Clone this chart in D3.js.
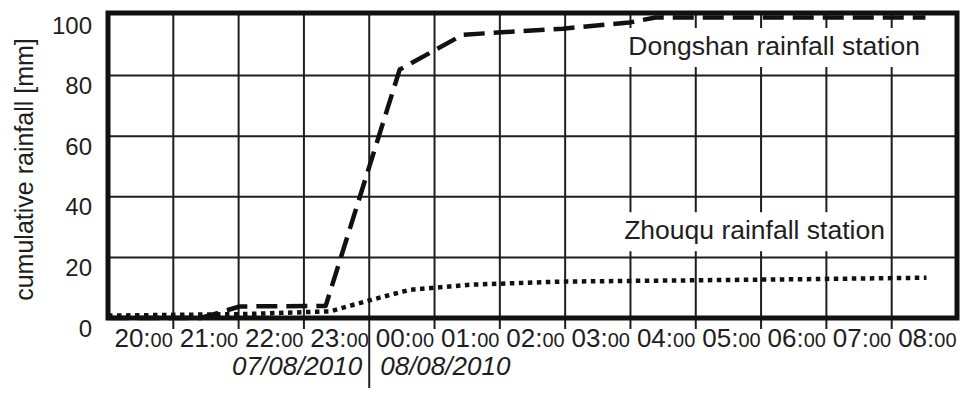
<!DOCTYPE html>
<html>
<head>
<meta charset="utf-8">
<script src="https://cdn.jsdelivr.net/npm/d3@7"></script>
<style>
  html, body { margin: 0; padding: 0; background: #fff; }
  svg { display: block; font-family: "Liberation Sans", Arial, sans-serif; }
</style>
</head>
<body>
<svg id="chart" width="975" height="397"></svg>
<script>
// Hour labels along the x axis (one per hourly interval)
const hourLabels = ["20", "21", "22", "23", "00", "01", "02", "03", "04", "05", "06", "07", "08"];
const minuteLabel = "00";
const yTicks = [0, 20, 40, 60, 80, 100];
const dateLabels = ["07/08/2010", "08/08/2010"];
const yTitle = "cumulative rainfall [mm]";

// Dongshan station readings: clock time and cumulative rainfall (mm)
const dongshanTimes  = ["20:00", "21:25", "22:01", "23:20", "00:28", "01:26", "02:58", "03:59", "04:23", "08:31"];
const dongshanValues = [0, 0, 3.8, 4, 82, 93.5, 95.5, 97.5, 99.2, 99.2];
const dongshanLabel = "Dongshan rainfall station";

// Zhouqu station readings
const zhouquTimes  = ["20:00", "22:06", "23:24", "00:02", "00:37", "01:33", "02:55", "04:18", "06:36", "08:32"];
const zhouquValues = [0.8, 1.3, 2.2, 6, 9.3, 11, 12, 12.3, 12.8, 13.3];
const zhouquLabel = "Zhouqu rainfall station";

// hours elapsed since 20:00 on the first day
function hoursSinceStart(s) {
  const [h, m] = s.split(":").map(Number);
  return (h < 20 ? h + 24 : h) + m / 60 - 20;
}

const svg = d3.select("#chart");
const x = d3.scaleLinear().domain([0, hourLabels.length]).range([108, 957]);
const y = d3.scaleLinear().domain([0, 100]).range([318, 15]);
const ink = "#1e1e1e";

// grid
const grid = svg.append("g").attr("stroke", ink).attr("stroke-width", 2);
grid.selectAll("line.h").data(yTicks.slice(1, -1)).join("line")
  .attr("x1", x(0)).attr("x2", x(hourLabels.length))
  .attr("y1", d => y(d)).attr("y2", d => y(d));
const hourEdges = d3.range(1, hourLabels.length);
grid.selectAll("line.v").data(hourEdges).join("line")
  .attr("x1", d => x(d)).attr("x2", d => x(d))
  .attr("y1", y(100)).attr("y2", d => hourLabels[d] === "00" ? 388 : y(0) + 11);

// series
const line = d3.line().x(d => x(d.t)).y(d => y(d.v));
const dong = dongshanTimes.map((t, i) => ({ t: hoursSinceStart(t), v: dongshanValues[i] }));
const zhou = zhouquTimes.map((t, i) => ({ t: hoursSinceStart(t), v: zhouquValues[i] }));

svg.append("path").datum(zhou).attr("d", line)
  .attr("fill", "none").attr("stroke", "#111").attr("stroke-width", 4.5)
  .attr("stroke-dasharray", "4.5,4.5");
svg.append("path").datum(dong).attr("d", line)
  .attr("fill", "none").attr("stroke", "#111").attr("stroke-width", 4.5)
  .attr("stroke-dasharray", "21,9").attr("stroke-linejoin", "round");

// station labels on white boxes
function stationLabel(text, t, v) {
  const g = svg.append("g");
  const rect = g.append("rect").attr("fill", "#fff");
  const tx = g.append("text").attr("x", x(t)).attr("y", y(v))
    .attr("text-anchor", "middle").attr("font-size", 26.5).attr("fill", ink)
    .text(text);
  const w = tx.node().getComputedTextLength();
  rect.attr("x", x(t) - w / 2 - 5).attr("width", w + 8)
    .attr("y", y(v) - 27).attr("height", 39);
}
stationLabel(dongshanLabel, 10.2, 86.8);
stationLabel(zhouquLabel, 9.9, 26);

// frame
svg.append("rect")
  .attr("x", x(0)).attr("y", y(100) - 2)
  .attr("width", x(hourLabels.length) - x(0)).attr("height", y(0) - y(100) + 2)
  .attr("fill", "none").attr("stroke", "#111").attr("stroke-width", 5);

// y tick labels
svg.append("g").selectAll("text").data(yTicks).join("text")
  .attr("x", 92).attr("y", d => y(d) + 10)
  .attr("text-anchor", "end").attr("dominant-baseline", "central")
  .attr("font-size", 24).attr("fill", ink)
  .text(d => d);

// y title
svg.append("text")
  .attr("transform", `translate(33,${(y(0) + y(100)) / 2 + 3}) rotate(-90)`)
  .attr("text-anchor", "middle").attr("font-size", 25).attr("fill", ink)
  .text(yTitle);

// x tick labels: large hour, smaller minutes
const xl = svg.append("g").selectAll("text").data(hourLabels).join("text")
  .attr("x", (d, i) => x(i + 0.5) + 3).attr("y", 347)
  .attr("text-anchor", "middle").attr("fill", ink);
xl.append("tspan").attr("font-size", 26).text(d => d + ":");
xl.append("tspan").attr("font-size", 20).text(minuteLabel);

// date labels either side of midnight
const midnight = x(hourLabels.indexOf("00"));
svg.append("text").attr("x", midnight - 7).attr("y", 375)
  .attr("text-anchor", "end").attr("font-style", "italic").attr("font-size", 26).attr("fill", ink)
  .text(dateLabels[0]);
svg.append("text").attr("x", midnight + 11).attr("y", 375)
  .attr("text-anchor", "start").attr("font-style", "italic").attr("font-size", 26).attr("fill", ink)
  .text(dateLabels[1]);
</script>
</body>
</html>
